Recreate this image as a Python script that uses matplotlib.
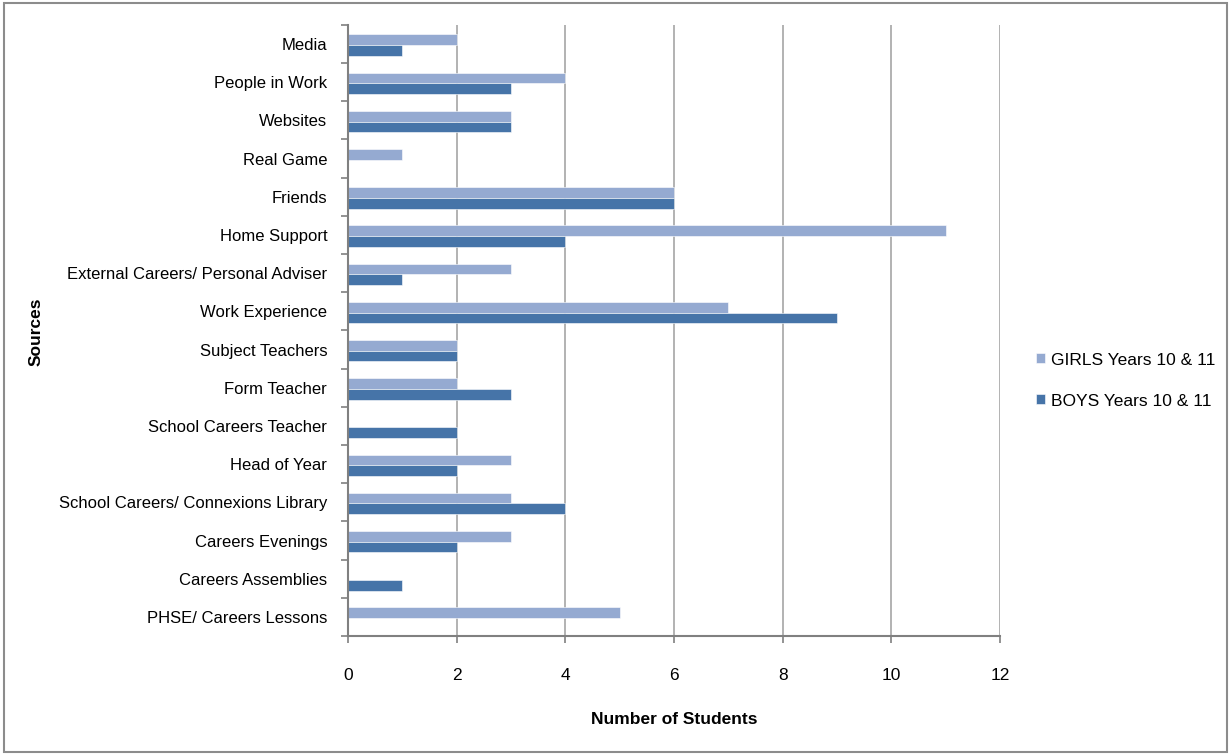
import numpy as np
import matplotlib
matplotlib.use("Agg")
import matplotlib.pyplot as plt
from matplotlib.patches import Rectangle

# survey results, listed top to bottom as drawn
sources = [
    "Media", "People in Work", "Websites", "Real Game", "Friends",
    "Home Support", "External Careers/ Personal Adviser", "Work Experience",
    "Subject Teachers", "Form Teacher", "School Careers Teacher",
    "Head of Year", "School Careers/ Connexions Library", "Careers Evenings",
    "Careers Assemblies", "PHSE/ Careers Lessons",
]
girls = [2, 4, 3, 1, 6, 11, 3, 7, 2, 2, 0, 3, 3, 3, 0, 5]
boys = [1, 3, 3, 0, 6, 4, 1, 9, 2, 3, 2, 2, 4, 2, 1, 0]
x_ticks = [0, 2, 4, 6, 8, 10, 12]

plt.rcParams['font.family'] = ['Liberation Sans', 'DejaVu Sans']

fig = plt.figure(figsize=(12.31, 7.55), dpi=100)
ax = fig.add_axes([0.2827, 0.1576, 0.8123 - 0.2827, 0.967 - 0.1576])

n = len(sources)
y = np.arange(n)
h = 0.28
ax.barh(y - h / 2 + 0.03, girls, height=h, color="#95aad1", edgecolor="white",
        linewidth=0.4, label="GIRLS Years 10 & 11", zorder=3)
ax.barh(y + h / 2 + 0.03, boys, height=h, color="#4674a8", edgecolor="white",
        linewidth=0.4, label="BOYS Years 10 & 11", zorder=3)

ax.set_ylim(n - 0.5, -0.5)
ax.set_xlim(0, 12)
ax.set_yticks(y)
ax.set_yticklabels(sources, fontsize=12)
ax.set_yticks(np.arange(n + 1) - 0.5, minor=True)
ax.tick_params(axis='y', which='major', length=0, pad=15)
ax.tick_params(axis='y', which='minor', length=5, color="#808080", width=1.2)
ax.set_xticks(x_ticks)
ax.set_xticklabels([str(t) for t in x_ticks], fontsize=12.5)
ax.tick_params(axis='x', length=5, color="#808080", width=1.2, pad=18)

ax.grid(axis='x', color="#a6a6a6", linewidth=1.2, zorder=0)
for side in ("top", "right"):
    ax.spines[side].set_visible(False)
for side in ("left", "bottom"):
    ax.spines[side].set_color("#808080")
    ax.spines[side].set_linewidth(1.5)
ax.spines["left"].set_zorder(4)

ax.set_xlabel("Number of Students", fontsize=12.5, fontweight="bold", labelpad=21)
fig.text(0.029, 0.56, "Sources", rotation=90, fontsize=12.5, fontweight="bold",
         ha="center", va="center")

ax.legend(loc="center left", bbox_to_anchor=(1.045, 0.418), frameon=False,
          fontsize=12.5, handlelength=0.5, handleheight=0.5, handletextpad=0.35,
          labelspacing=1.5, borderaxespad=0)

# thin grey frame around the whole chart area
fig.patches.append(Rectangle((0.003, 0.004), 0.994, 0.992, transform=fig.transFigure,
                             fill=False, edgecolor="#8c8c8c", linewidth=1.5))

fig.savefig("out.png", dpi=100)
